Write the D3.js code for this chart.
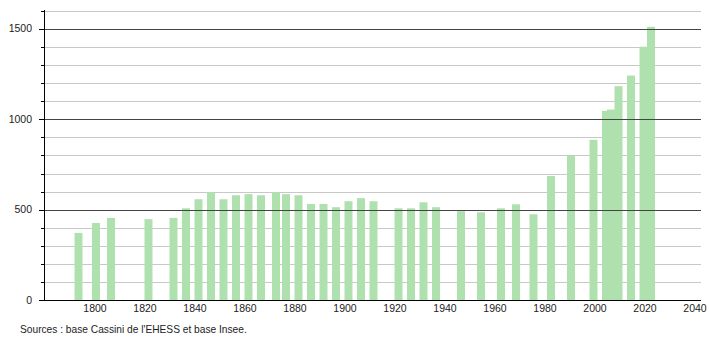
<!DOCTYPE html>
<html><head><meta charset="utf-8">
<script src="https://cdn.jsdelivr.net/npm/d3@7"></script>
<style>body{margin:0;background:#fff}svg{display:block}text{font-family:"Liberation Sans",Arial,sans-serif}</style>
</head><body>
<svg id="c" width="710" height="340"></svg>
<script>
const years = [1793,1800,1806,1821,1831,1836,1841,1846,1851,1856,1861,1866,1872,1876,1881,1886,1891,1896,1901,1906,1911,1921,1926,1931,1936,1946,1954,1962,1968,1975,1982,1990,1999,2004,2006,2009,2014,2019,2022];
const population = [372,427,455,448,455,508,558,597,558,580,586,580,597,586,580,532,532,514,547,564,547,508,508,541,514,492,486,508,530,475,686,799,886,1046,1053,1182,1241,1400,1510];
const xTicks = [1800,1820,1840,1860,1880,1900,1920,1940,1960,1980,2000,2020,2040];
const yMajor = [0,500,1000,1500];
const yMinor = [100,200,300,400,600,700,800,900,1100,1200,1300,1400,1600];
const sourceText = "Sources : base Cassini de l'EHESS et base Insee.";

const svg = d3.select("#c");
const x = d3.scaleLinear().domain([1800,2040]).range([95,695]);
const y = d3.scaleLinear().domain([0,1600]).range([300.3,10.5]);
const x0 = 44, x1 = 701;

// minor gridlines
svg.append("g").selectAll("line").data(yMinor).join("line")
  .attr("x1",x0).attr("x2",x1).attr("y1",d=>Math.round(y(d))+0.5).attr("y2",d=>Math.round(y(d))+0.5)
  .attr("stroke","#c8c8c8").attr("stroke-width",1);
// minor ticks
svg.append("g").selectAll("line").data(yMinor).join("line")
  .attr("x1",41).attr("x2",x0).attr("y1",d=>Math.round(y(d))+0.5).attr("y2",d=>Math.round(y(d))+0.5)
  .attr("stroke","#000");

// bars
svg.append("g").selectAll("rect").data(years).join("rect")
  .attr("x",(d)=>x(d)-3).attr("width",8)
  .attr("y",(d,i)=>y(population[i])).attr("height",(d,i)=>y(0)-y(population[i]))
  .attr("fill","#afe1af");

// major gridlines (drawn over bars)
svg.append("g").selectAll("line").data(yMajor.filter(d=>d>0)).join("line")
  .attr("x1",x0).attr("x2",x1).attr("y1",d=>Math.round(y(d))+0.5).attr("y2",d=>Math.round(y(d))+0.5)
  .attr("stroke","#444").attr("stroke-width",1);
svg.append("g").selectAll("line").data(yMajor).join("line")
  .attr("x1",39).attr("x2",x0).attr("y1",d=>Math.round(y(d))+0.5).attr("y2",d=>Math.round(y(d))+0.5)
  .attr("stroke","#000");
svg.append("g").selectAll("text").data(yMajor).join("text")
  .attr("x",32).attr("y",d=>y(d)+3.5).attr("text-anchor","end")
  .attr("font-size",10.5).attr("fill","#222").text(d=>d);

// axes lines
svg.append("line").attr("x1",x0+0.5).attr("x2",x0+0.5).attr("y1",10).attr("y2",300.5).attr("stroke","#000");
svg.append("line").attr("x1",x0).attr("x2",x1).attr("y1",300.5).attr("y2",300.5).attr("stroke","#000");

// x labels
svg.append("g").selectAll("text").data(xTicks).join("text")
  .attr("x",d=>x(d)).attr("y",312).attr("text-anchor","middle")
  .attr("font-size",10.5).attr("fill","#222").text(d=>d);

svg.append("text").attr("x",20).attr("y",333).attr("font-size",10.2).attr("fill","#222").text(sourceText);
</script>
</body></html>
